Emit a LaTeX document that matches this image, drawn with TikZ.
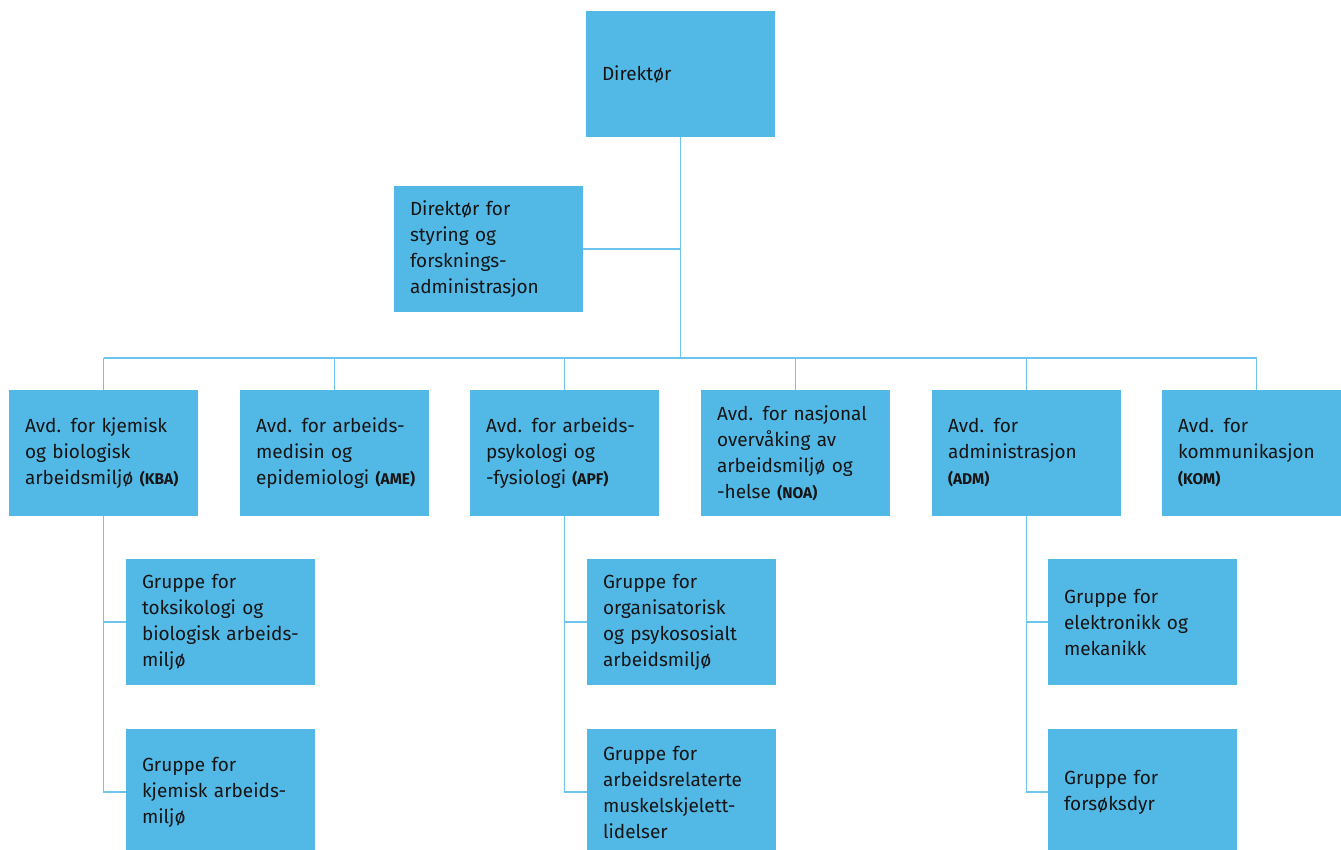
\documentclass[tikz,border=0pt]{standalone}
\usepackage{fontspec}
\setsansfont{Fira Sans}
\usepackage{tikz}

\definecolor{boxblue}{HTML}{52B9E7}
\definecolor{lineblue}{HTML}{6DC5EE}
\definecolor{inkblack}{HTML}{151515}
\newcommand{\abbr}[1]{{\fontsize{15.5}{26}\selectfont\bfseries (#1)}}

\begin{document}
\begin{tikzpicture}[x=1pt,y=-1pt,
	unit/.style={fill=boxblue, text=inkblack, minimum width=189pt, minimum height=126pt,
		text width=157pt, inner xsep=16pt, inner ysep=0pt, align=left,
		font=\sffamily\fontsize{19}{26}\selectfont},
	link/.style={draw=lineblue, line width=1.8pt}]
\useasboundingbox (0,0) rectangle (1341,849);

% top level
\path (680.5,74) node[unit] (dir) {Direktør}
		(488.5,249) node[unit] (styr) {Direktør for\\styring og\\forsknings-\\administrasjon}
		;

% departments
\path (103.5,453) node[unit] (kba) {Avd. for kjemisk\\og biologisk\\arbeidsmiljø~\abbr{KBA}}
		(334.5,453) node[unit] (ame) {Avd. for arbeids-\\medisin og\\epidemiologi~\abbr{AME}}
		(564.5,453) node[unit] (apf) {Avd. for arbeids-\\psykologi og\\-fysiologi~\abbr{APF}}
		(795.5,453) node[unit] (noa) {Avd. for nasjonal\\overvåking av\\arbeidsmiljø og\\-helse~\abbr{NOA}}
		(1026.5,453) node[unit] (adm) {Avd. for\\administrasjon\\\abbr{ADM}}
		(1256.5,453) node[unit] (kom) {Avd. for\\kommunikasjon\\\abbr{KOM}}
		;

% groups
\path (220.5,622) node[unit] (tox) {Gruppe for\\toksikologi og\\biologisk arbeids-\\miljø}
		(220.5,792) node[unit] (kjem) {Gruppe for\\kjemisk arbeids-\\miljø}
		(681.5,622) node[unit] (org) {Gruppe for\\organisatorisk\\og psykososialt\\arbeidsmiljø}
		(681.5,792) node[unit] (musk) {Gruppe for\\arbeidsrelaterte\\muskelskjelett-\\lidelser}
		(1142.5,622) node[unit] (elek) {Gruppe for\\elektronikk og\\mekanikk}
		(1142.5,792) node[unit] (fors) {Gruppe for\\forsøksdyr}
		;

\coordinate (bus) at (680.5,358);
\draw[link] (dir.south) -- (bus);
\draw[link] (styr.east) -- (styr.east -| bus);
\draw[link] (kba.north |- bus) -- (kom.north |- bus);
\foreach \d in {kba,ame,apf,noa,adm,kom}
	\draw[link] (\d.north |- bus) -- (\d.north);
\foreach \d/\a/\b in {kba/tox/kjem, apf/org/musk, adm/elek/fors} {
	\draw[link] (\d.south) -- (\d.south |- \b.west) -- (\b.west);
	\draw[link] (\d.south |- \a.west) -- (\a.west);
}
\end{tikzpicture}
\end{document}
